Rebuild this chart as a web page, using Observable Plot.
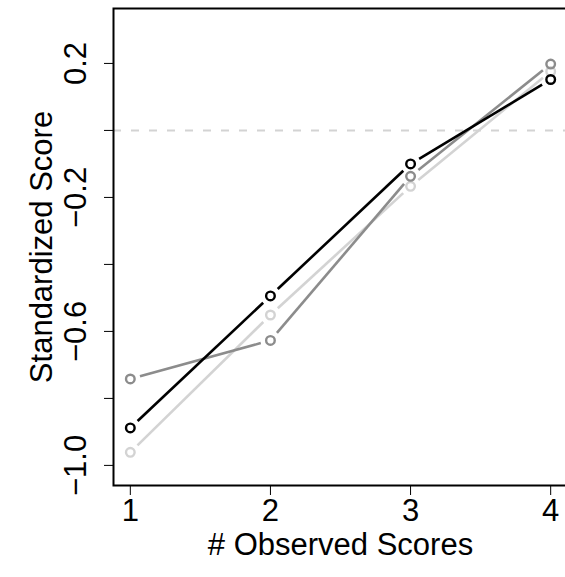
<!DOCTYPE html>
<html>
<head>
<meta charset="utf-8">
<script src="https://cdn.jsdelivr.net/npm/d3@7"></script>
<script src="https://cdn.jsdelivr.net/npm/@observablehq/plot@0.6"></script>
<style>
  html, body { margin: 0; padding: 0; background: #fff; }
  #chart svg { display: block; font-family: "Liberation Sans", Arial, sans-serif; }
</style>
</head>
<body>
<div id="chart"></div>
<script>
// Number of observed scores on the x axis
const observed = [1, 2, 3, 4];

// Mean standardized score for each group
const seriesNames = ["light", "dark", "black"];
const lightScores = [-0.961, -0.551, -0.167, 0.176];
const darkScores  = [-0.742, -0.627, -0.137, 0.198];
const blackScores = [-0.888, -0.494, -0.100, 0.152];
const seriesColors = ["#d3d3d3", "#8c8c8c", "#000000"];

// Axis ticks and the ones carrying a label
const xTicks = [1, 2, 3, 4];
const yTicks = [-1.0, -0.8, -0.6, -0.4, -0.2, 0.0, 0.2];
const yLabelTicks = [-1.0, -0.6, -0.2, 0.2];
const referenceLevel = [0];

const seriesValues = [lightScores, darkScores, blackScores];
const points = seriesNames.flatMap((name, s) =>
  observed.map((x, i) => ({series: name, x, y: seriesValues[s][i]})));
const segments = seriesNames.flatMap((name, s) =>
  observed.slice(1).map((x, i) => ({
    series: name,
    x1: observed[i], y1: seriesValues[s][i],
    x2: x, y2: seriesValues[s][i + 1]
  })));

const fmt = d => (d < 0 ? "\u2212" : "") + Math.abs(d).toFixed(1);
const FS = 31;

const chart = Plot.plot({
  width: 565,
  height: 577,
  marginLeft: 113,
  marginRight: -2,
  marginTop: 8,
  marginBottom: 92,
  x: {domain: [0.88, 4.12]},
  y: {domain: [-1.06, 0.364]},
  color: {domain: seriesNames, range: seriesColors},
  marks: [
    // dashed reference line at zero
    Plot.ruleY(referenceLevel, {stroke: "#d3d3d3", strokeWidth: 2, strokeDasharray: "8,10"}),
    // connecting segments, left short of each point
    Plot.arrow(segments, {
      x1: "x1", y1: "y1", x2: "x2", y2: "y2",
      stroke: "series", strokeWidth: 2.6, strokeLinecap: "butt",
      headLength: 0, bend: 0, inset: 10
    }),
    // open circles at each observation
    Plot.dot(points, {x: "x", y: "y", stroke: "series", r: 4.3, strokeWidth: 2.4, fill: "none"}),
    // plot box
    Plot.frame({stroke: "#000", strokeWidth: 2}),
    // x axis ticks and labels
    Plot.axisX({ticks: xTicks, tickSize: 10, tickPadding: 3, tickWidth: 2, tickFormat: d => String(d),
      fontSize: FS, label: null}),
    // y axis ticks
    Plot.axisY({ticks: yTicks, tickSize: 9, tickWidth: 2, text: null, label: null}),
    // y tick labels, parallel to the axis
    Plot.text(yLabelTicks, {y: d => d, text: fmt, frameAnchor: "left", rotate: -90,
      textAnchor: "middle", lineAnchor: "bottom", dx: -28, fontSize: FS, fill: "#000"}),
    // axis titles
    Plot.text(["# Observed Scores"], {frameAnchor: "bottom", lineAnchor: "bottom", dy: 69,
      fontSize: FS, fill: "#000"}),
    Plot.text(["Standardized Score"], {frameAnchor: "left", rotate: -90, textAnchor: "middle",
      lineAnchor: "bottom", dx: -62, fontSize: FS, fill: "#000"})
  ]
});

document.getElementById("chart").append(chart);
</script>
</body>
</html>
